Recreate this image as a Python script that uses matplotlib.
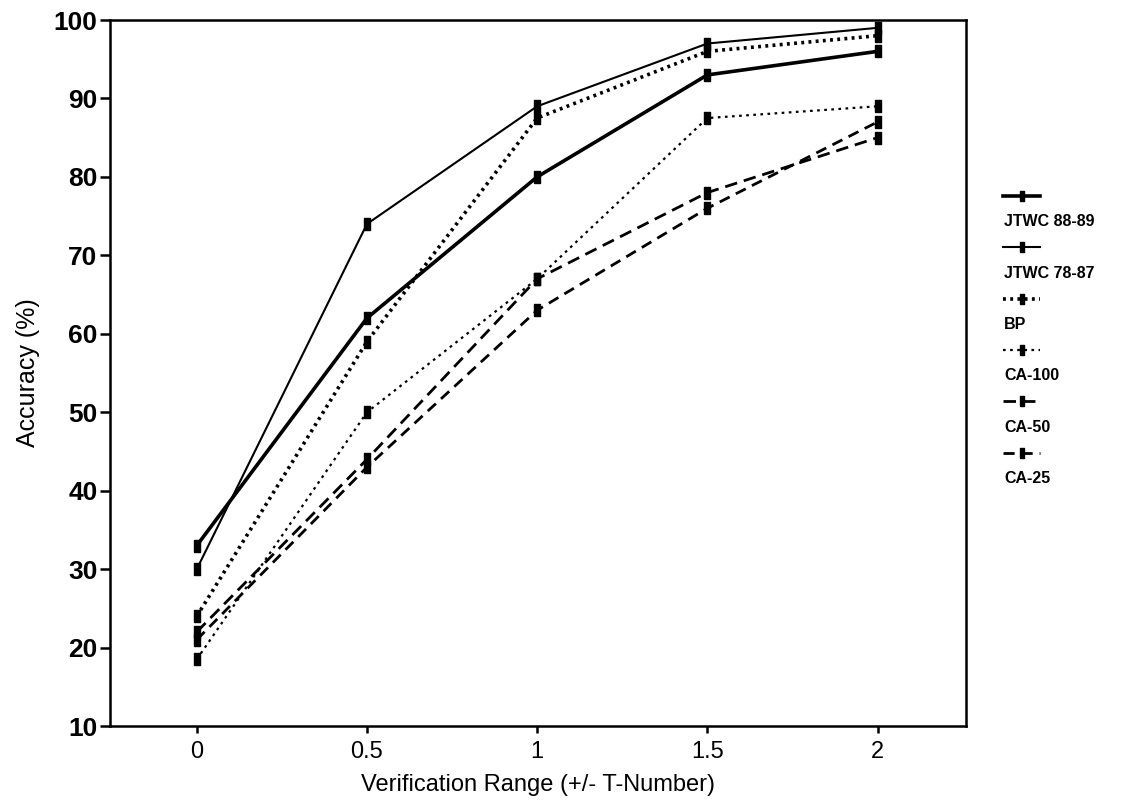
import matplotlib
matplotlib.use("Agg")
import matplotlib.pyplot as plt
from matplotlib.lines import Line2D

plt.rcParams['font.family'] = ['Liberation Sans', 'DejaVu Sans']

x = [0, 0.5, 1, 1.5, 2]
jtwc_88_89 = [33, 62, 80, 93, 96]
jtwc_78_87 = [30, 74, 89, 97, 99]
bp = [24, 59, 87.5, 96, 98]
ca_100 = [18.5, 50, 67, 87.5, 89]
ca_50 = [22, 44, 67, 78, 85]
ca_25 = [21, 43, 63, 76, 87]

labels = ['JTWC 88-89', 'JTWC 78-87', 'BP', 'CA-100', 'CA-50', 'CA-25']
series = [jtwc_88_89, jtwc_78_87, bp, ca_100, ca_50, ca_25]
styles = [
    dict(lw=2.6, ls='-'),
    dict(lw=1.5, ls='-'),
    dict(lw=2.6, ls=(0, (0.8, 1.2))),
    dict(lw=1.6, ls=(0, (1.2, 2.0))),
    dict(lw=2.0, ls=(0, (4.5, 2.5))),
    dict(lw=2.0, ls=(0, (4, 2.5))),
]

# tall rectangular marker
mark = [(-1, -2), (1, -2), (1, 2), (-1, 2), (-1, -2)]

fig = plt.figure(figsize=(11.21, 8.08), dpi=100)
ax = fig.add_axes([110 / 1121, 1 - 726 / 808, 856 / 1121, 706 / 808])

for y, st in zip(series, styles):
    ax.plot(x, y, color='black', marker=mark, markersize=8, **st)

ax.set_xlim(-0.255, 2.26)
ax.set_ylim(10, 100)
ax.set_yticks(range(10, 101, 10))
ax.set_xticks(x)
ax.set_xticklabels(['0', '0.5', '1', '1.5', '2'], fontsize=17)
for t in ax.get_yticklabels():
    t.set_fontsize(19)
    t.set_fontweight('bold')
ax.tick_params(axis='y', direction='out', length=7, width=1.8, pad=2)
ax.tick_params(axis='x', direction='out', length=5, width=1.8, pad=6)
for s in ax.spines.values():
    s.set_linewidth(1.8)

ax.set_xlabel('Verification Range (+/- T-Number)', fontsize=17, labelpad=8)
ax.set_ylabel('Accuracy (%)', fontsize=18, labelpad=10)

# legend: handle above label, outside at right
lg = fig.add_axes([0, 0, 1, 1], facecolor='none')
lg.set_axis_off()
lg.set_xlim(0, 1121)
lg.set_ylim(808, 0)
for i, (lab, st) in enumerate(zip(labels, styles)):
    yh = 196 + i * 51.3
    lg.add_line(Line2D([1003, 1040], [yh, yh], color='black', **st))
    lg.plot([1021.5], [yh], color='black', marker=mark, markersize=7, ls='none')
    lg.text(1004, yh + 26, lab, fontsize=11.5, fontweight='bold',
            va='center', ha='left')

fig.savefig('out.png', dpi=100)
